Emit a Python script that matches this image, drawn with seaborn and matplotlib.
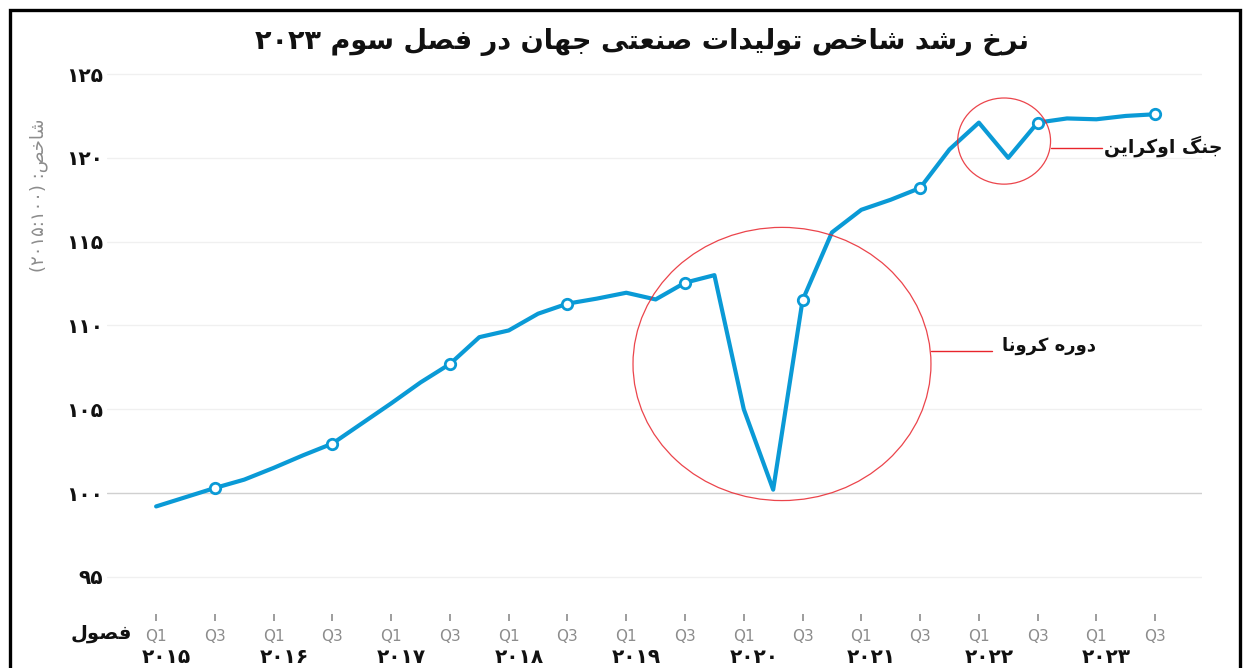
import re
import matplotlib
matplotlib.use("Agg")
import matplotlib.pyplot as plt
import seaborn as sns
from matplotlib.patches import Ellipse, Rectangle

# quarterly index values, 2015 Q1 .. 2023 Q3
years = ["۲۰۱۵", "۲۰۱۶", "۲۰۱۷", "۲۰۱۸", "۲۰۱۹", "۲۰۲۰", "۲۰۲۱", "۲۰۲۲", "۲۰۲۳"]
quarters = ["Q1", "Q2", "Q3", "Q4"]
index_values = [
    99.2, 99.75, 100.3, 100.8,
    101.5, 102.25, 102.95, 104.15,
    105.35, 106.6, 107.7, 109.3,
    109.7, 110.7, 111.3, 111.6,
    111.95, 111.55, 112.55, 113.0,
    105.0, 100.2, 111.5, 115.55,
    116.9, 117.5, 118.2, 120.5,
    122.1, 120.0, 122.1, 122.35,
    122.3, 122.5, 122.6,
]
y_ticks = [95, 100, 105, 110, 115, 120, 125]
y_tick_labels = ["۹۵", "۱۰۰", "۱۰۵", "۱۱۰", "۱۱۵", "۱۲۰", "۱۲۵"]

title = "نرخ رشد شاخص تولیدات صنعتی جهان در فصل سوم ۲۰۲۳"
y_label = "شاخص: (۲۰۱۵:۱۰۰)"
x_label = "فصول"
note_corona = "دوره کرونا"
note_war = "جنگ اوکراین"

# --- tiny arabic shaper (matplotlib does no shaping / bidi) ---
FORMS = {
    "ا": ("\ufe8d", "\ufe8e"), "د": ("\ufea9", "\ufeaa"), "ر": ("\ufead", "\ufeae"),
    "و": ("\ufeed", "\ufeee"),
    "ت": ("\ufe95", "\ufe96", "\ufe97", "\ufe98"), "ج": ("\ufe9d", "\ufe9e", "\ufe9f", "\ufea0"),
    "خ": ("\ufea5", "\ufea6", "\ufea7", "\ufea8"), "س": ("\ufeb1", "\ufeb2", "\ufeb3", "\ufeb4"),
    "ش": ("\ufeb5", "\ufeb6", "\ufeb7", "\ufeb8"), "ص": ("\ufeb9", "\ufeba", "\ufebb", "\ufebc"),
    "ع": ("\ufec9", "\ufeca", "\ufecb", "\ufecc"), "ف": ("\ufed1", "\ufed2", "\ufed3", "\ufed4"),
    "ل": ("\ufedd", "\ufede", "\ufedf", "\ufee0"), "م": ("\ufee1", "\ufee2", "\ufee3", "\ufee4"),
    "ن": ("\ufee5", "\ufee6", "\ufee7", "\ufee8"), "ه": ("\ufee9", "\ufeea", "\ufeeb", "\ufeec"),
    "ک": ("\ufb8e", "\ufb8f", "\ufb90", "\ufb91"), "گ": ("\ufb92", "\ufb93", "\ufb94", "\ufb95"),
    "ی": ("\ufbfc", "\ufbfd", "\ufbfe", "\ufbff"),
}
MIRROR = {"(": ")", ")": "("}


def fa(text):
    shaped = []
    for i, c in enumerate(text):
        if c not in FORMS:
            shaped.append(c)
            continue
        prev = text[i - 1] if i > 0 else ""
        nxt = text[i + 1] if i + 1 < len(text) else ""
        jp = prev in FORMS and len(FORMS[prev]) == 4
        jn = len(FORMS[c]) == 4 and nxt in FORMS
        k = 3 if jp and jn else 1 if jp else 2 if jn else 0
        shaped.append(FORMS[c][k])
    s = "".join(shaped)
    tokens = re.findall(r"[0-9۰-۹A-Za-z]+(?:[:.][0-9۰-۹]+)*|.", s)
    return "".join(MIRROR.get(t, t) for t in reversed(tokens))


sns.set_theme(style="white")
plt.rcParams["font.family"] = ["DejaVu Sans"]

fig = plt.figure(figsize=(12.52, 6.68), dpi=100)
ax = fig.add_axes([0.0855, 0.0808, 0.8747, 0.8159])

x = list(range(len(index_values)))
sns.lineplot(x=x, y=index_values, ax=ax, color="#0a9ad6", linewidth=3.0,
             marker="o", markersize=7.5, markerfacecolor="white",
             markeredgecolor="#0a9ad6", markeredgewidth=2,
             markevery=slice(2, None, 4), zorder=3)

ax.set_xlim(-1.67, 35.6)
ax.set_ylim(92.78, 125.3)
for v in y_ticks:
    ax.axhline(v, color="#d0d0d0" if v == 100 else "#f0f0f0", lw=1, zorder=1)
for s in ax.spines.values():
    s.set_visible(False)

ax.set_yticks(y_ticks)
ax.set_yticklabels(y_tick_labels, fontsize=14.5, fontweight="bold", color="#111111")
ax.tick_params(axis="y", length=0, pad=3)

tick_pos = x[::2]
ax.set_xticks(tick_pos)
ax.set_xticklabels([quarters[p % 4] for p in tick_pos], fontsize=11, color="#8c8c8c")
ax.tick_params(axis="x", length=5, width=1.2, color="#8c8c8c", pad=6, direction="out", bottom=True)
ax.set_xlabel("")
ax.set_ylabel("")

for k, yr in enumerate(years):
    ax.text(4 * k + 0.35, -0.079, yr, transform=ax.get_xaxis_transform(),
            ha="center", va="center", fontsize=14.5, fontweight="bold", color="#111111")

fig.text(0.1054, 0.051, fa(x_label), ha="right", va="center",
         fontsize=14, fontweight="bold", color="#111111")
fig.text(0.031, 1 - 195 / 668, fa(y_label), rotation=90, ha="center", va="center",
         fontsize=13, color="#8c8c8c")
fig.text(642 / 1252, 1 - 42 / 668, fa(title), ha="center", va="center",
         fontsize=19.5, fontweight="bold", color="#111111")

# highlight circles and callouts
red = "#e8242c"
corona = Ellipse((21.3, 107.7), 10.14, 16.3, fill=False, ec=red, lw=0.9, alpha=0.85, zorder=4)
war = Ellipse((28.86, 121.0), 3.16, 5.14, fill=False, ec=red, lw=0.9, alpha=0.85, zorder=4)
ax.add_patch(corona)
ax.add_patch(war)
ax.plot([21.3 + 10.14 / 2, 28.45], [108.47, 108.47], color=red, lw=1, zorder=4)
ax.plot([28.86 + 3.16 / 2, 32.2], [120.57, 120.57], color=red, lw=1, zorder=4)
ax.text(28.8, 108.77, fa(note_corona), ha="left", va="center",
        fontsize=13, fontweight="bold", color="#111111")
ax.text(32.27, 120.69, fa(note_war), ha="left", va="center",
        fontsize=13.5, fontweight="bold", color="#111111", clip_on=False)

fig.patches.append(Rectangle((10 / 1252, -0.05), 1230 / 1252, 1.05 - 10 / 668,
                             transform=fig.transFigure, fill=False, ec="black", lw=2.4))

fig.savefig("out.png", dpi=100)
